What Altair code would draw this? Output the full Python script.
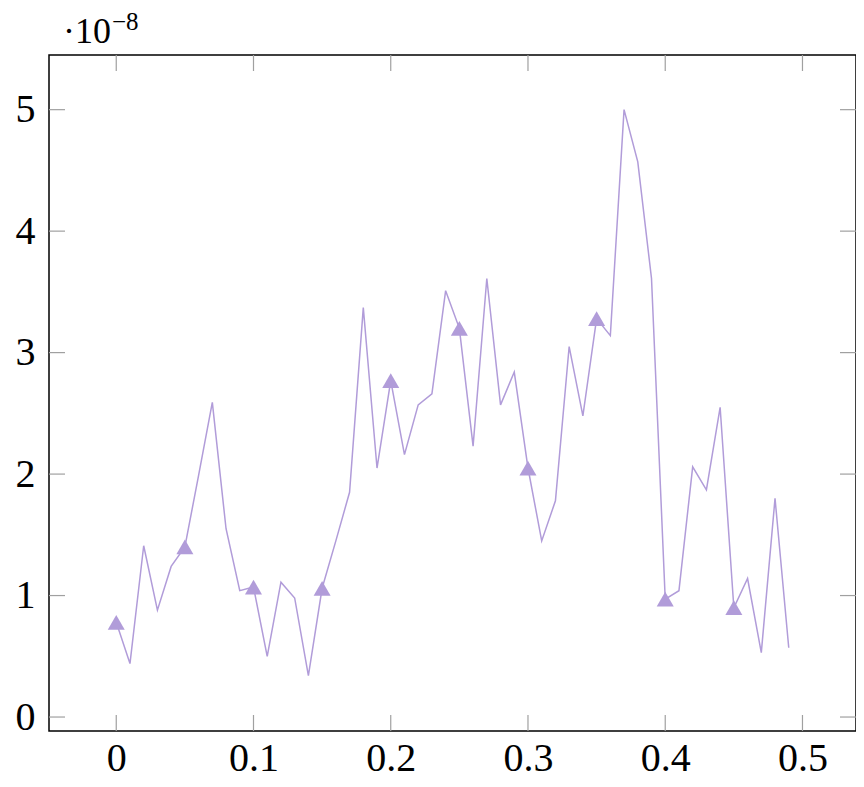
import altair as alt
import pandas as pd

# x values 0.00 .. 0.49, y values in units of 1e-8
x_vals = [round(i * 0.01, 2) for i in range(50)]
y_vals = [0.78, 0.44, 1.41, 0.88, 1.24, 1.40, 1.99, 2.59, 1.55, 1.04,
          1.07, 0.50, 1.11, 0.98, 0.34, 1.06, 1.45, 1.85, 3.37, 2.05,
          2.77, 2.16, 2.57, 2.66, 3.51, 3.20, 2.23, 3.61, 2.57, 2.84,
          2.05, 1.45, 1.78, 3.05, 2.48, 3.28, 3.14, 5.00, 4.57, 3.61,
          0.97, 1.04, 2.06, 1.87, 2.55, 0.90, 1.14, 0.53, 1.80, 0.57]
x_ticks = [0, 0.1, 0.2, 0.3, 0.4, 0.5]
y_ticks = [0, 1, 2, 3, 4, 5]
exponent_base = "·10"
exponent_sup = "−8"

W, H = 807, 676
COLOR = "#b19cd9"
FONT = "Liberation Serif"
FS = 40
TICK = 16

df = pd.DataFrame({"x": x_vals, "y": y_vals})
marks_df = df.iloc[::5]
xt = pd.DataFrame({"v": x_ticks})
yt = pd.DataFrame({"v": y_ticks})

xs = alt.Scale(domain=[-0.049, 0.539], nice=False, zero=False)
ys = alt.Scale(domain=[-0.115, 5.45], nice=False, zero=False)

xaxis = alt.Axis(values=x_ticks, ticks=False, grid=False, domain=False,
                 labelFont=FONT, labelFontSize=FS, labelPadding=7,
                 labelColor="black",
                 labelExpr="datum.value == 0 ? '0' : format(datum.value, '.1f')",
                 title=None)
yaxis = alt.Axis(values=y_ticks, ticks=False, grid=False, domain=False,
                 labelFont=FONT, labelFontSize=FS, labelPadding=14,
                 labelColor="black", format="d", title=None)

line = alt.Chart(df).mark_line(color=COLOR, strokeWidth=1.5).encode(
    x=alt.X("x:Q", scale=xs, axis=xaxis),
    y=alt.Y("y:Q", scale=ys, axis=yaxis),
)
pts = alt.Chart(marks_df).mark_point(shape="triangle-up", filled=True, color=COLOR,
                                      opacity=1, size=290).encode(
    x=alt.X("x:Q", scale=xs), y=alt.Y("y:Q", scale=ys))

tick_style = dict(color="#a0a0a0", strokeWidth=1.2)
xt_bot = alt.Chart(xt).mark_rule(**tick_style).encode(
    x=alt.X("v:Q", scale=xs), y=alt.value(H), y2=alt.value(H - TICK))
xt_top = alt.Chart(xt).mark_rule(**tick_style).encode(
    x=alt.X("v:Q", scale=xs), y=alt.value(0), y2=alt.value(TICK))
yt_left = alt.Chart(yt).mark_rule(**tick_style).encode(
    y=alt.Y("v:Q", scale=ys), x=alt.value(0), x2=alt.value(TICK))
yt_right = alt.Chart(yt).mark_rule(**tick_style).encode(
    y=alt.Y("v:Q", scale=ys), x=alt.value(W - TICK), x2=alt.value(W))

exp1 = alt.Chart(pd.DataFrame({"t": [exponent_base]})).mark_text(
    font=FONT, fontSize=36, align="left", baseline="alphabetic", color="black").encode(
    text="t:N", x=alt.value(14), y=alt.value(-12))
exp2 = alt.Chart(pd.DataFrame({"t": [exponent_sup]})).mark_text(
    font=FONT, fontSize=25, align="left", baseline="alphabetic", color="black").encode(
    text="t:N", x=alt.value(63), y=alt.value(-25))

chart = alt.layer(xt_bot, xt_top, yt_left, yt_right, line, pts, exp1, exp2).properties(
    width=W, height=H,
    autosize=alt.AutoSizeParams(type="none"),
    padding={"left": 41, "top": 47, "right": 0, "bottom": 48},
).configure(background="white").configure_view(stroke="black", strokeWidth=1.5)

chart.save("out.html", embed_options={"renderer": "svg", "actions": False})
